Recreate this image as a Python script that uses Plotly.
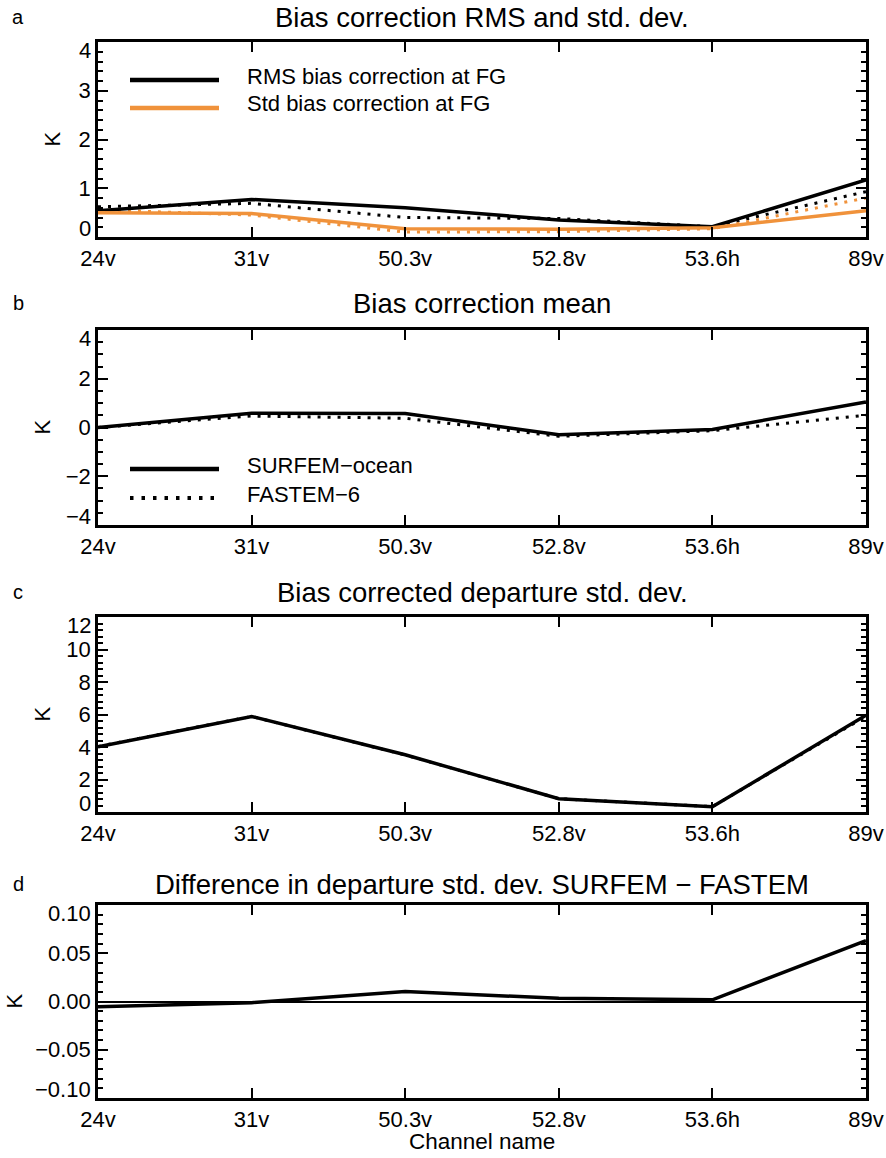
import plotly.graph_objects as go

# ---------------- data ----------------
channels = ["24v", "31v", "50.3v", "52.8v", "53.6h", "89v"]

rms_surfem = [0.54, 0.77, 0.60, 0.35, 0.21, 1.17]
rms_fastem = [0.62, 0.69, 0.40, 0.38, 0.21, 0.93]
std_surfem = [0.50, 0.48, 0.17, 0.16, 0.19, 0.54]
std_fastem = [0.56, 0.45, 0.10, 0.11, 0.17, 0.80]

mean_surfem = [0.00, 0.58, 0.57, -0.30, -0.08, 1.05]
mean_fastem = [0.00, 0.47, 0.38, -0.36, -0.13, 0.50]

dep_surfem = [4.02, 5.88, 3.52, 0.82, 0.33, 5.95]
dep_fastem = [4.03, 5.88, 3.51, 0.82, 0.33, 5.89]

dep_diff = [-0.0054, -0.0012, 0.0104, 0.0033, 0.0018, 0.063]

titles = ["Bias correction RMS and std. dev.", "Bias correction mean",
          "Bias corrected departure std. dev.",
          "Difference in departure std. dev. SURFEM \u2212 FASTEM"]
letters = ["a", "b", "c", "d"]
y_ranges = [[0, 4], [-4, 4], [0, 12], [-0.1, 0.1]]
y_ticks = [[0, 1, 2, 3, 4], [-4, -2, 0, 2, 4], [0, 2, 4, 6, 8, 10, 12],
           [-0.10, -0.05, 0.0, 0.05, 0.10]]
y_ticktext = [["0", "1", "2", "3", "4"],
              ["\u22124", "\u22122", "0", "2", "4"],
              ["0", "2", "4", "6", "8", "10", "12"],
              ["\u22120.10", "\u22120.05", "0.00", "0.05", "0.10"]]
y_minor = [0.2, 0.5, 0.4, 0.01]

ORANGE = "#F0923B"
FONT = "Liberation Sans, Arial, Helvetica, sans-serif"
W, H = 886, 1158

def px(x):
    return x / W

def py(y):
    return 1 - y / H

# panel geometry (pixels)
left, right = 98, 866
panels = [(42, 237), (330, 525), (617, 812), (905, 1098)]
title_y = [17, 303, 592, 884]
k_x = [52, 42, 42, 14]

fig = go.Figure()
DOT = "3px,7px"

# panel a
fig.add_trace(go.Scatter(x=channels, y=rms_fastem, mode="lines", xaxis="x", yaxis="y",
                         line=dict(color="black", width=3, dash=DOT), showlegend=False))
fig.add_trace(go.Scatter(x=channels, y=std_fastem, mode="lines", xaxis="x", yaxis="y",
                         line=dict(color=ORANGE, width=3, dash=DOT), showlegend=False))
fig.add_trace(go.Scatter(x=channels, y=rms_surfem, mode="lines", xaxis="x", yaxis="y",
                         line=dict(color="black", width=3.5), showlegend=False))
fig.add_trace(go.Scatter(x=channels, y=std_surfem, mode="lines", xaxis="x", yaxis="y",
                         line=dict(color=ORANGE, width=3.5), showlegend=False))
# panel b
fig.add_trace(go.Scatter(x=channels, y=mean_fastem, mode="lines", xaxis="x2", yaxis="y2",
                         line=dict(color="black", width=3, dash=DOT), showlegend=False))
fig.add_trace(go.Scatter(x=channels, y=mean_surfem, mode="lines", xaxis="x2", yaxis="y2",
                         line=dict(color="black", width=3.5), showlegend=False))
# panel c
fig.add_trace(go.Scatter(x=channels, y=dep_fastem, mode="lines", xaxis="x3", yaxis="y3",
                         line=dict(color="black", width=3, dash=DOT), showlegend=False))
fig.add_trace(go.Scatter(x=channels, y=dep_surfem, mode="lines", xaxis="x3", yaxis="y3",
                         line=dict(color="black", width=3.5), showlegend=False))
# panel d
fig.add_trace(go.Scatter(x=channels, y=dep_diff, mode="lines", xaxis="x4", yaxis="y4",
                         line=dict(color="black", width=3.5), showlegend=False))

annotations = []
shapes = []
layout = dict(
    width=W, height=H, margin=dict(l=0, r=0, t=0, b=0, pad=0, autoexpand=False),
    paper_bgcolor="white", plot_bgcolor="white",
    font=dict(family=FONT, size=22, color="black"),
    showlegend=False,
)

for i, (top, bot) in enumerate(panels):
    n = "" if i == 0 else str(i + 1)
    xa = dict(
        domain=[px(left), px(right)], anchor="y" + n, type="category",
        range=[0, 5], showline=True, linecolor="black", linewidth=2.5, mirror="allticks",
        ticks="inside", ticklen=10, tickwidth=2, tickcolor="black",
        showgrid=False, zeroline=False, tickfont=dict(size=22, family=FONT),
        fixedrange=True, automargin=False, showticklabels=True,
    )
    lo, hi = y_ranges[i]
    ttext = list(y_ticktext[i])
    ttext[0] = ""
    ttext[-1] = ""
    ya = dict(
        domain=[py(bot), py(top)], anchor="x" + n, range=[lo, hi],
        showline=True, linecolor="black", linewidth=2.5, mirror="allticks",
        ticks="inside", ticklen=10, tickwidth=2, tickcolor="black",
        tickvals=y_ticks[i], ticktext=ttext,
        minor=dict(ticks="inside", ticklen=5, tickwidth=1.5, tickcolor="black",
                   dtick=y_minor[i], tick0=lo, showgrid=False),
        showgrid=False, zeroline=(i == 3), zerolinecolor="black", zerolinewidth=1.5,
        tickfont=dict(size=22, family=FONT), fixedrange=True, automargin=False,
    )
    layout["xaxis" + n] = xa
    layout["yaxis" + n] = ya
    # edge y tick labels, nudged inward
    annotations.append(dict(x=px(left) - 0.006, y=py(bot) + 9 / H,
                            xref="paper", yref="paper", text=y_ticktext[i][0],
                            showarrow=False, xanchor="right", yanchor="middle",
                            font=dict(size=22, family=FONT)))
    annotations.append(dict(x=px(left) - 0.006, y=py(top) - 8 / H,
                            xref="paper", yref="paper", text=y_ticktext[i][-1],
                            showarrow=False, xanchor="right", yanchor="middle",
                            font=dict(size=22, family=FONT)))
    # title
    annotations.append(dict(x=px((left + right) / 2), y=py(title_y[i]), xref="paper", yref="paper",
                            text=titles[i], showarrow=False, xanchor="center", yanchor="middle",
                            font=dict(size=27.5, family=FONT)))
    # panel letter
    annotations.append(dict(x=px(18), y=py(title_y[i]), xref="paper", yref="paper",
                            text=letters[i], showarrow=False, xanchor="center", yanchor="middle",
                            font=dict(size=20, family=FONT)))
    # y title
    annotations.append(dict(x=px(k_x[i]), y=py((top + bot) / 2), xref="paper", yref="paper",
                            text="K", textangle=-90, showarrow=False, xanchor="center",
                            yanchor="middle", font=dict(size=22, family=FONT)))

annotations.append(dict(x=px((left + right) / 2), y=py(1141), xref="paper", yref="paper",
                        text="Channel name", showarrow=False, xanchor="center", yanchor="middle",
                        font=dict(size=22.5, family=FONT)))

# legends
leg_a = [("RMS bias correction at FG", "black", "solid", 80),
         ("Std bias correction at FG", ORANGE, "solid", 108)]
leg_b = [("SURFEM\u2212ocean", "black", "solid", 469),
         ("FASTEM\u22126", "black", "dot", 498)]
for items in (leg_a, leg_b):
    for text, col, dash, yy in items:
        shapes.append(dict(type="line", xref="paper", yref="paper",
                           x0=px(130), x1=px(219), y0=py(yy), y1=py(yy),
                           line=dict(color=col, width=4.5 if dash == "solid" else 4,
                                     dash="solid" if dash == "solid" else "3.5px,8px")))
        annotations.append(dict(x=px(245), y=py(yy - 4), xref="paper", yref="paper",
                                text=text, showarrow=False, xanchor="left", yanchor="middle",
                                font=dict(size=22, family=FONT)))

layout["annotations"] = annotations
layout["shapes"] = shapes
fig.update_layout(**layout)

fig.write_html("out.html")
